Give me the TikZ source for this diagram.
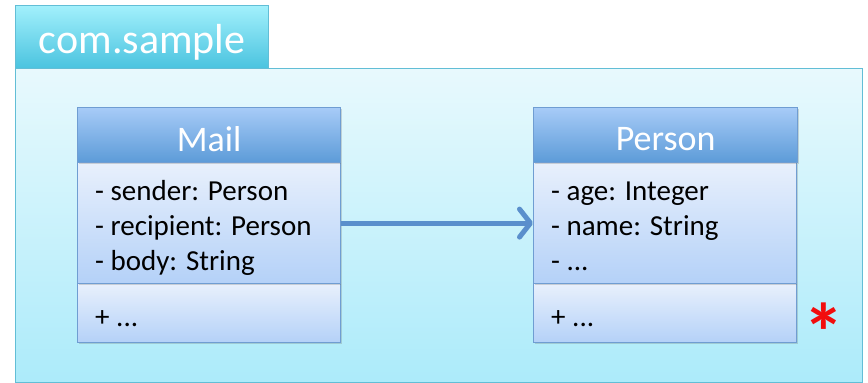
\documentclass[tikz,border=0pt]{standalone}
\usepackage{fontspec}
\setmainfont{Carlito}
\usetikzlibrary{shadows,arrows.meta}

\definecolor{pkgtop}{HTML}{E8F9FD}
\definecolor{pkgbot}{HTML}{ACEBFA}
\definecolor{pkgline}{HTML}{62BED6}
\definecolor{tabtop}{HTML}{A2F0FC}
\definecolor{tabbot}{HTML}{4AC3DF}
\definecolor{headtop}{HTML}{A7CBF7}
\definecolor{headbot}{HTML}{5C9BD8}
\definecolor{cbodytop}{HTML}{E8F0FC}
\definecolor{cbodybot}{HTML}{B4D1F8}
\definecolor{classline}{HTML}{6F9DD2}
\definecolor{assoc}{HTML}{5A8FCC}
\definecolor{mark}{HTML}{F20D0D}

\tikzset{
  softshadow/.style={drop shadow={shadow xshift=1.5pt,shadow yshift=-1.5pt,opacity=0.25,fill=black!60}},
  pkgbody/.style={draw=pkgline,line width=1.2pt,top color=pkgtop,bottom color=pkgbot,
    anchor=north west,inner sep=0pt},
  pkgtab/.style={draw=pkgline,line width=1.2pt,top color=tabtop,bottom color=tabbot,
    anchor=north west,inner sep=0pt},
  tabtext/.style={text=white,inner sep=0pt,font=\fontsize{42}{46}\selectfont},
  classhead/.style={draw=classline,line width=1.2pt,top color=headtop,bottom color=headbot,
    anchor=north west,inner sep=0pt,minimum width=263pt,minimum height=55pt,softshadow},
  headtext/.style={text=white,inner sep=0pt,font=\fontsize{36}{40}\selectfont},
  classpart/.style={draw=classline,line width=1.2pt,top color=cbodytop,bottom color=cbodybot,
    anchor=north west,inner sep=0pt,minimum width=263pt,softshadow},
  members/.style={anchor=west,align=left,inner sep=0pt,font=\fontsize{29}{35}\selectfont},
  assocline/.style={draw=assoc,line width=5pt,
    -{Straight Barb[length=11pt 0 0,width=28pt 0 0,round]}}
}

\begin{document}
\begin{tikzpicture}[x=1pt,y=-1pt]
\useasboundingbox (0,0) rectangle (868,383);
\fill[white] (0,0) rectangle (868,383);

% package com.sample
\node[pkgbody,minimum width=847pt,minimum height=314pt] (pkg) at (15,68) {};
\node[pkgtab,minimum width=253pt,minimum height=63pt] (tab) at (15,5) {};
\node[tabtext] (tablabel) at ([yshift=-5pt]tab.center) {com.sample};

% class Mail
\node[classpart,minimum height=59pt] (mailops) at (77,283) {};
\node[classpart,minimum height=121pt] (mailattr) at (77,162) {};
\node[classhead] (mailhead) at (77,107) {};
\node[headtext] (mailname) at ([yshift=-4pt]mailhead.center) {Mail};
\node[members] (mailattrtext) at ([xshift=18pt,yshift=-5pt]mailattr.west)
  {\strut- sender: Person\\- recipient: Person\\- body: String\strut};
\node[members] (mailopstext) at ([xshift=18pt,yshift=-6pt]mailops.west) {+ ...};

% class Person
\node[classpart,minimum height=59pt] (personops) at (533,283) {};
\node[classpart,minimum height=121pt] (personattr) at (533,162) {};
\node[classhead,minimum width=264pt] (personhead) at (533,107) {};
\node[headtext] (personname) at ([yshift=-4pt]personhead.center) {Person};
\node[members] (personattrtext) at ([xshift=18pt,yshift=-5pt]personattr.west)
  {\strut- age: Integer\\- name: String\\- ...\strut};
\node[members] (personopstext) at ([xshift=18pt,yshift=-6pt]personops.west) {+ ...};

% association Mail -> Person
\draw[assocline,drop shadow={shadow xshift=1pt,shadow yshift=-2pt,opacity=0.2}]
  (mailattr.east) -- (personattr.west);

% multiplicity mark, its box trimmed to the drawn star
\node[text=mark,font=\bfseries\fontsize{82}{82}\selectfont,inner sep=0pt] (star)
  at (824,317) {\raisebox{-31pt}[26pt][0pt]{*}};
\end{tikzpicture}
\end{document}
